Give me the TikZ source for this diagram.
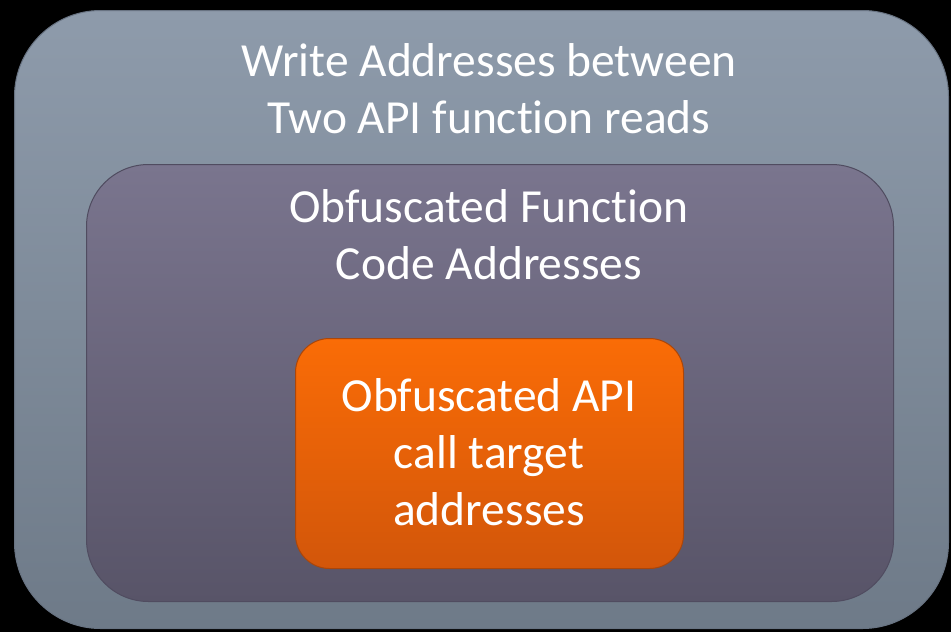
\documentclass[tikz,border=0pt]{standalone}
\usepackage{fontspec}
\setmainfont[Ligatures=NoCommon]{Carlito}
\begin{document}
\begin{tikzpicture}[x=1pt,y=-1pt,
  boxbase/.style={rectangle, inner sep=0pt, anchor=north west},
  outerbox/.style={boxbase, rounded corners=86pt, top color=outerTop, bottom color=outerBot, draw=outerLine, line width=1pt},
  midbox/.style={boxbase, rounded corners=62pt, top color=midTop, bottom color=midBot, draw=midLine, line width=1pt},
  orangebox/.style={boxbase, rounded corners=34pt, top color=orTop, bottom color=orBot, draw=orLine, line width=1pt},
  lbl/.style={text=white, align=center, inner sep=0pt, font=\fontsize{47.5}{57}\selectfont, anchor=base}
]
\definecolor{outerTop}{RGB}{142,155,171}
\definecolor{outerBot}{RGB}{110,122,136}
\definecolor{outerLine}{RGB}{104,115,130}
\definecolor{midTop}{RGB}{122,117,142}
\definecolor{midBot}{RGB}{88,84,104}
\definecolor{midLine}{RGB}{80,76,96}
\definecolor{orTop}{RGB}{250,108,6}
\definecolor{orBot}{RGB}{210,86,10}
\definecolor{orLine}{RGB}{170,70,10}
\fill[black] (0,0) rectangle (951,632);
\useasboundingbox (0,0) rectangle (951,632);
\node[outerbox, minimum width=934pt, minimum height=618pt] (outer) at (14,10) {};
\node[midbox, minimum width=807pt, minimum height=437pt] (mid) at (86,164) {};
\node[orangebox, minimum width=388pt, minimum height=230pt] (inner) at (295,338) {};
\node[lbl] (t1) at (489,133) {Write Addresses between\\Two API function reads};
\node[lbl] (t2) at (489,279) {Obfuscated Function\\Code Addresses};
\node[lbl] (t3) at (489,525) {Obfuscated API\\call target\\addresses};
\end{tikzpicture}
\end{document}
